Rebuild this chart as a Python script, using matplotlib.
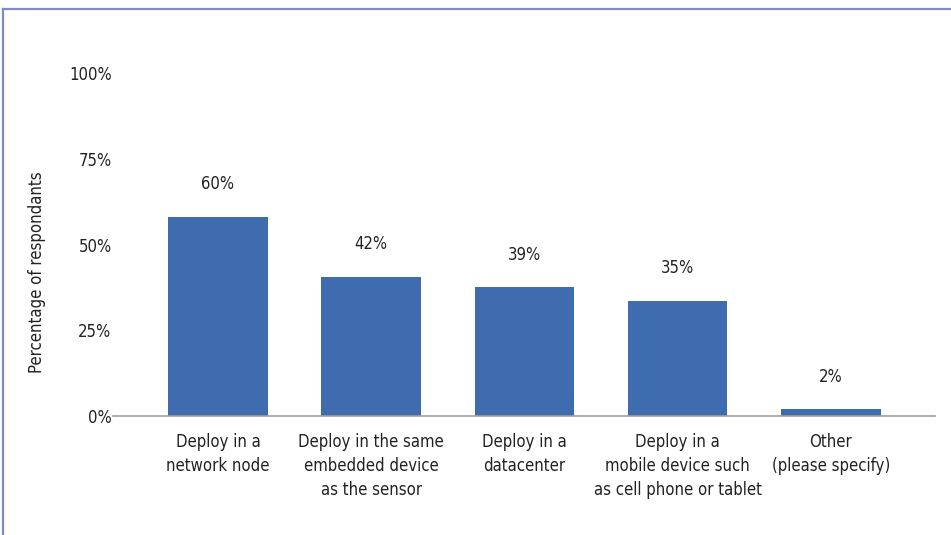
import matplotlib
matplotlib.use("Agg")
import matplotlib.pyplot as plt
from matplotlib.lines import Line2D
from matplotlib import font_manager

categories = [
    "Deploy in a\nnetwork node",
    "Deploy in the same\nembedded device\nas the sensor",
    "Deploy in a\ndatacenter",
    "Deploy in a\nmobile device such\nas cell phone or tablet",
    "Other\n(please specify)",
]
values = [58, 40.5, 37.5, 33.5, 2]
value_labels = ["60%", "42%", "39%", "35%", "2%"]
yticks = [0, 25, 50, 75, 100]
ytick_labels = ["0%", "25%", "50%", "75%", "100%"]

# look for a condensed / narrow sans font
cond = None
for f in font_manager.fontManager.ttflist:
    low = f.fname.lower()
    if ("condensed" in low or "narrow" in low or f.stretch in ("condensed", "semi-condensed")) \
            and "bold" not in low and "oblique" not in low and "italic" not in low:
        cond = f
        break
if cond is not None:
    font_manager.fontManager.addfont(cond.fname)
    plt.rcParams["font.family"] = [cond.name, "DejaVu Sans"]
    if cond.stretch != "normal":
        plt.rcParams["font.stretch"] = cond.stretch
    fs = 12
else:
    plt.rcParams["font.family"] = ["Roboto", "DejaVu Sans"]
    fs = 11.5

W, H = 951, 535
fig = plt.figure(figsize=(W / 100, H / 100), dpi=100)
fig.patch.set_facecolor("white")

ax = fig.add_axes([113 / W, 1 - 416 / H, (935 - 113) / W, (416 - 73) / H])
x = list(range(len(categories)))
ax.bar(x, values, width=0.65, color="#3F6BAF", zorder=2)
for xi, v, lab in zip(x, values, value_labels):
    ax.annotate(lab, (xi, v), xytext=(0, 17), textcoords="offset points",
                ha="center", va="bottom", fontsize=fs, color="#222222")

ax.set_xlim(-0.685, 4.68)
ax.set_ylim(0, 100)
ax.set_yticks(yticks)
ax.set_yticklabels(ytick_labels, fontsize=fs, color="#222222")
ax.set_xticks(x)
ax.set_xticklabels(categories, fontsize=fs, color="#222222", linespacing=1.45)
ax.tick_params(axis="y", length=0, pad=1)
ax.tick_params(axis="x", length=0, pad=12)
for s in ["top", "right", "left"]:
    ax.spines[s].set_visible(False)
ax.spines["bottom"].set_color("#A0A0A0")
ax.spines["bottom"].set_linewidth(1.2)

fig.text(37 / W, 1 - 272 / H, "Percentage of respondants", rotation=90,
         ha="center", va="center", fontsize=fs, color="#222222")

# border (top and left)
fig.add_artist(Line2D([2.5 / W, 1], [1 - 8.5 / H, 1 - 8.5 / H], transform=fig.transFigure,
                      color="#7C8CC0", linewidth=1.6))
fig.add_artist(Line2D([2.5 / W, 2.5 / W], [0, 1 - 8.5 / H], transform=fig.transFigure,
                      color="#7C8CC0", linewidth=1.6))

fig.savefig("out.png", dpi=100)
